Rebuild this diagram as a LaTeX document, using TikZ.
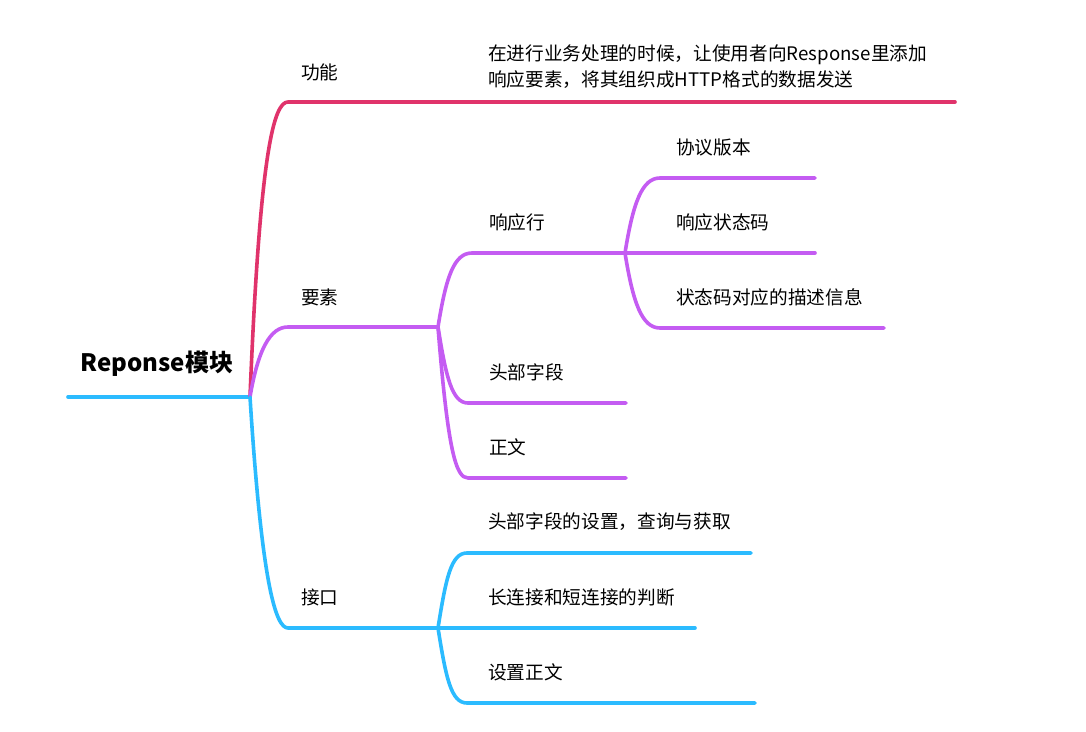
\documentclass[tikz,border=0pt]{standalone}
\usepackage{fontspec}
\newfontfamily\cjk{Noto Sans CJK SC}
\usepackage{xcolor}
\usetikzlibrary{positioning}
\definecolor{gnred}{HTML}{E0336B}
\definecolor{ysviolet}{HTML}{C45CF2}
\definecolor{jkblue}{HTML}{2BBBFF}
\begin{document}
\begin{tikzpicture}[x=0.75pt, y=-0.75pt,
  topic/.style={anchor=west, inner sep=0pt, align=left, font=\cjk\fontsize{14}{19.5}\selectfont},
  branch/.style={line width=2.7pt, line cap=round, line join=round}]
\useasboundingbox (0,0) rectangle (1086,732);
\node[inner sep=0pt, font=\cjk\bfseries\fontsize{18}{20}\selectfont] (root) at (157,364) {Reponse模块};
\coordinate (root-l) at (68,397);
\coordinate (root-j) at (250,397);
\draw[branch, jkblue] (root-l) -- (root-j);
% level one
\node[topic] (gn) at (301,72) {功能};
\node[topic] (ys) at (301,297) {要素};
\node[topic] (jk) at (301,597) {接口};
\coordinate (gn-a) at (288,102);
\coordinate (gn-b) at (437,102);
\coordinate (ys-a) at (288,327);
\coordinate (ys-b) at (438,327);
\coordinate (jk-a) at (288,628);
\coordinate (jk-b) at (438,628);
\draw[branch, gnred] (root-j) .. controls +(10,-247) and +(-14,0) .. (gn-a) -- (gn-b);
\draw[branch, ysviolet] (root-j) .. controls +(8,-47) and +(-18,0) .. (ys-a) -- (ys-b);
\draw[branch, jkblue] (root-j) .. controls +(12,190) and +(-12,0) .. (jk-a) -- (jk-b);
% 功能
\node[topic] (gnms) at (488,67) {在进行业务处理的时候，让使用者向Response里添加\\响应要素，将其组织成HTTP格式的数据发送};
\coordinate (gnms-b) at (955,102);
\draw[branch, gnred] (gn-b) -- (gnms-b);
% 要素
\node[topic] (xyh) at (489,222) {响应行};
\node[topic] (tbzd) at (489,372) {头部字段};
\node[topic] (zw) at (489,447) {正文};
\coordinate (xyh-a) at (472,253);
\coordinate (xyh-b) at (625,253);
\coordinate (tbzd-a) at (468,403);
\coordinate (tbzd-b) at (626,403);
\coordinate (zw-a) at (468,478);
\coordinate (zw-b) at (626,478);
\draw[branch, ysviolet] (ys-b) .. controls +(8,-50) and +(-18,0) .. (xyh-a) -- (xyh-b);
\draw[branch, ysviolet] (ys-b) .. controls +(8,50) and +(-16,0) .. (tbzd-a) -- (tbzd-b);
\draw[branch, ysviolet] (ys-b) .. controls +(10,125) and +(-12,0) .. (zw-a) -- (zw-b);
% 响应行
\node[topic] (xybb) at (676,147) {协议版本};
\node[topic] (ztm) at (676,222) {响应状态码};
\node[topic] (msxx) at (676,297) {状态码对应的描述信息};
\coordinate (xybb-a) at (660,178);
\coordinate (xybb-b) at (815,178);
\coordinate (ztm-b) at (815,253);
\coordinate (msxx-a) at (660,328);
\coordinate (msxx-b) at (884,328);
\draw[branch, ysviolet] (xyh-b) .. controls +(8,-50) and +(-18,0) .. (xybb-a) -- (xybb-b);
\draw[branch, ysviolet] (xyh-b) -- (ztm-b);
\draw[branch, ysviolet] (xyh-b) .. controls +(8,50) and +(-18,0) .. (msxx-a) -- (msxx-b);
% 接口
\node[topic] (szcx) at (488,522) {头部字段的设置，查询与获取};
\node[topic] (cdlj) at (488,597) {长连接和短连接的判断};
\node[topic] (szzw) at (488,672) {设置正文};
\coordinate (szcx-a) at (467,553);
\coordinate (szcx-b) at (751,553);
\coordinate (cdlj-b) at (695,628);
\coordinate (szzw-a) at (467,703);
\coordinate (szzw-b) at (755,703);
\draw[branch, jkblue] (jk-b) .. controls +(8,-50) and +(-16,0) .. (szcx-a) -- (szcx-b);
\draw[branch, jkblue] (jk-b) -- (cdlj-b);
\draw[branch, jkblue] (jk-b) .. controls +(8,50) and +(-16,0) .. (szzw-a) -- (szzw-b);
\end{tikzpicture}
\end{document}
